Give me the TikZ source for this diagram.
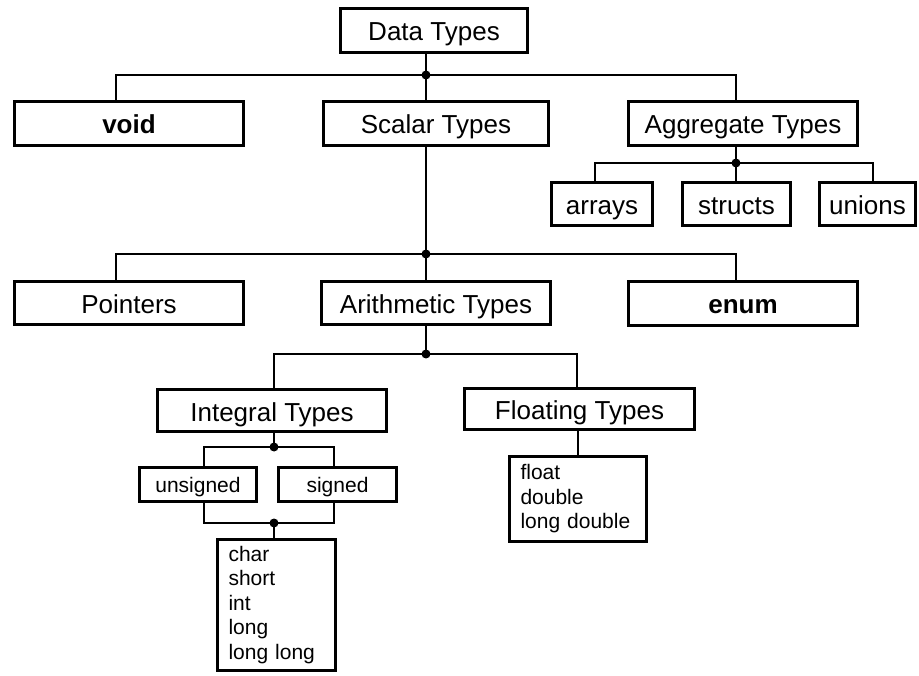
\documentclass[tikz,border=0pt]{standalone}
\usepackage{fontspec}
\setmainfont{Liberation Sans}
\begin{document}
\begin{tikzpicture}[x=1pt,y=-1pt,
  box/.style={draw, line width=3pt, rectangle, inner sep=0pt, text height=21pt, text depth=0pt, font=\fontsize{26}{30}\selectfont},
  smallbox/.style={box, text height=15pt, text depth=0pt, font=\fontsize{21}{24}\selectfont},
  listbox/.style={draw, line width=3pt, rectangle, inner xsep=11pt, inner ysep=0pt, align=left, font=\fontsize{21}{24.5}\selectfont},
  conn/.style={line width=1.6pt},
  jdot/.style={fill=black}]
\useasboundingbox (0,0) rectangle (919,676);
% boxes
\node[box, minimum width=187pt, minimum height=44pt] (dt) at (434,30.5) {Data Types};
\node[box, minimum width=229pt, minimum height=44pt] (void) at (129,123.5) {\bfseries void};
\node[box, minimum width=225pt, minimum height=44pt] (scalar) at (436,123.5) {Scalar Types};
\node[box, minimum width=229pt, minimum height=44pt] (agg) at (743,123.5) {Aggregate Types};
\node[box, minimum width=101pt, minimum height=43pt] (arrays) at (602,204) {arrays};
\node[box, minimum width=108pt, minimum height=43pt] (structs) at (736.5,204) {structs};
\node[box, minimum width=96pt, minimum height=43pt] (unions) at (867.5,204) {unions};
\node[box, minimum width=229pt, minimum height=43pt] (pointers) at (129,303) {Pointers};
\node[box, minimum width=229pt, minimum height=43pt] (arith) at (436,303) {Arithmetic Types};
\node[box, minimum width=229pt, minimum height=44pt] (enum) at (743,303.5) {\bfseries enum};
\node[box, minimum width=229pt, minimum height=42pt] (integral) at (272,410.5) {Integral Types};
\node[box, minimum width=230pt, minimum height=41pt] (floating) at (579.5,409) {Floating Types};
\node[smallbox, minimum width=117pt, minimum height=34pt] (unsigned) at (198,484.5) {unsigned};
\node[smallbox, minimum width=118pt, minimum height=34pt] (signed) at (337.5,484.5) {signed};
\node[listbox, text width=96pt, minimum height=131pt] (intlist) at (276.5,605) {char\\short\\int\\long\\long long};
\node[listbox, text width=115pt, minimum height=85pt] (floatlist) at (578,499) {float\\double\\long double};
% junction coordinates
\coordinate (j1) at (426,75);
\coordinate (j1L) at (116,75);
\coordinate (j1R) at (736,75);
\coordinate (j2) at (426,254);
\coordinate (j2L) at (116,254);
\coordinate (j2R) at (736,254);
\coordinate (j3) at (736,163);
\coordinate (j3L) at (595,163);
\coordinate (j3R) at (873,163);
\coordinate (j4) at (426,354);
\coordinate (j4L) at (274,354);
\coordinate (j4R) at (577,354);
\coordinate (j5) at (274,447);
\coordinate (j5L) at (204,447);
\coordinate (j5R) at (334,447);
\coordinate (j6) at (274,523);
\coordinate (j6L) at (204,523);
\coordinate (j6R) at (334,523);
% connectors
\draw[conn] (dt.south -| j1) -- (j1);
\draw[conn] (void.north -| j1L) -- (j1L) -- (j1R) -- (agg.north -| j1R);
\draw[conn] (j1) -- (scalar.north -| j1);
\draw[conn] (scalar.south -| j2) -- (j2);
\draw[conn] (pointers.north -| j2L) -- (j2L) -- (j2R) -- (enum.north -| j2R);
\draw[conn] (j2) -- (arith.north -| j2);
\draw[conn] (agg.south -| j3) -- (j3);
\draw[conn] (arrays.north -| j3L) -- (j3L) -- (j3R) -- (unions.north -| j3R);
\draw[conn] (j3) -- (structs.north -| j3);
\draw[conn] (arith.south -| j4) -- (j4);
\draw[conn] (integral.north -| j4L) -- (j4L) -- (j4R) -- (floating.north -| j4R);
\draw[conn] (integral.south -| j5) -- (j5);
\draw[conn] (unsigned.north -| j5L) -- (j5L) -- (j5R) -- (signed.north -| j5R);
\draw[conn] (unsigned.south -| j6L) -- (j6L) -- (j6R) -- (signed.south -| j6R);
\draw[conn] (j6) -- (intlist.north -| j6);
\draw[conn] (floating.south -| floatlist.north) -- (floatlist.north);
% dots
\foreach \j in {j1,j2,j3,j4,j5,j6} \fill[jdot] (\j) circle (4.5pt);
\end{tikzpicture}
\end{document}
